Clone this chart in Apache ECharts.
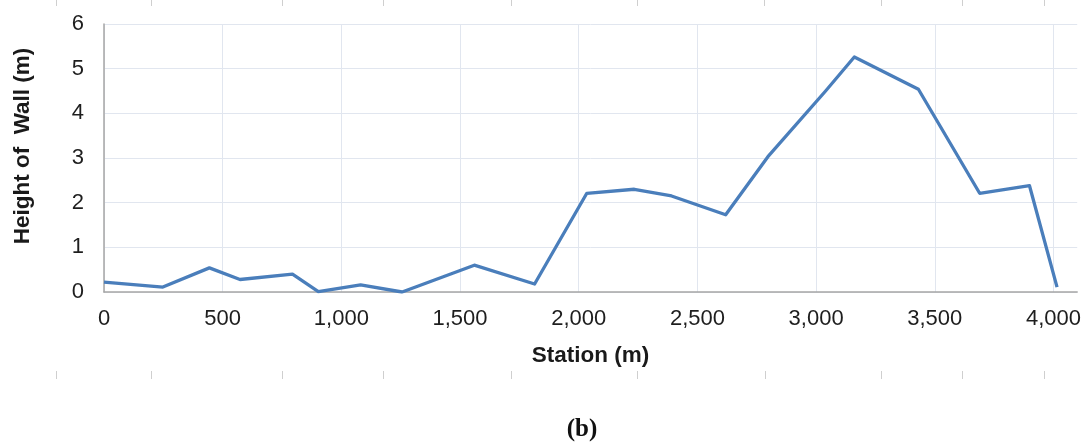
<!DOCTYPE html>
<html>
<head>
<meta charset="utf-8">
<script src="https://cdn.jsdelivr.net/npm/echarts@6/dist/echarts.min.js"></script>
<style>
  html, body { margin: 0; padding: 0; background: #ffffff; }
  #chart { width: 1084px; height: 443px; }
</style>
</head>
<body>
<div id="chart"></div>
<script>
// Wall height profile along the station chainage
const stations = [0, 248, 444, 573, 794, 903, 1081, 1256, 1560, 1814, 2034, 2234, 2391, 2619, 2797, 3040, 3161, 3431, 3689, 3899, 4015];
const wallHeights = [0.22, 0.11, 0.54, 0.28, 0.40, 0.01, 0.16, 0.00, 0.60, 0.18, 2.21, 2.30, 2.15, 1.73, 3.03, 4.50, 5.26, 4.54, 2.21, 2.38, 0.11];

const xTitle = 'Station (m)';
const yTitle = 'Height of  Wall (m)';
const caption = '(b)';

// faint page rule marks above and below the figure
const topMarks = [56, 151, 282, 383, 511, 637, 764, 881, 962, 1044];
const bottomMarks = [56, 151, 282, 383, 511, 637, 765, 881, 962, 1044];

const chart = echarts.init(document.getElementById('chart'), null, { renderer: 'canvas' });

const font = '"Liberation Sans", Arial, sans-serif';

const marks = [];
topMarks.forEach(x => marks.push({
  type: 'line', shape: { x1: x + 0.5, y1: 0, x2: x + 0.5, y2: 6 },
  style: { stroke: '#cfcfcf', lineWidth: 1 }, silent: true
}));
bottomMarks.forEach(x => marks.push({
  type: 'line', shape: { x1: x + 0.5, y1: 371, x2: x + 0.5, y2: 379 },
  style: { stroke: '#cfcfcf', lineWidth: 1 }, silent: true
}));

chart.setOption({
  backgroundColor: '#ffffff',
  animation: false,
  grid: { left: 104, right: 6, top: 24, bottom: 151, containLabel: false },
  xAxis: {
    type: 'value',
    min: 0,
    max: 4100,
    interval: 500,
    name: xTitle,
    nameLocation: 'middle',
    nameGap: 52,
    nameTextStyle: { fontFamily: font, fontSize: 22.5, fontWeight: 'bold', color: '#1a1a1a' },
    axisLine: { show: true, lineStyle: { color: '#a6a6a6', width: 1.5 } },
    axisTick: { show: false },
    axisLabel: {
      fontFamily: font, fontSize: 22, color: '#1e1e1e', margin: 16,
      showMaxLabel: false,
      formatter: v => v.toLocaleString('en-US')
    },
    splitLine: { show: true, showMaxLine: false, lineStyle: { color: '#e1e6ef', width: 1 } }
  },
  yAxis: {
    type: 'value',
    min: 0,
    max: 6,
    interval: 1,
    axisLine: { show: true, lineStyle: { color: '#a6a6a6', width: 1.5 } },
    axisTick: { show: false },
    axisLabel: { fontFamily: font, fontSize: 22, color: '#1e1e1e', margin: 20 },
    splitLine: { show: true, lineStyle: { color: '#e1e6ef', width: 1 } }
  },
  graphic: [
    {
      type: 'text',
      x: 23, y: 146, rotation: Math.PI / 2,
      style: {
        text: yTitle, fontFamily: font, fontSize: 22.5, fontWeight: 'bold',
        fill: '#1a1a1a', align: 'center', verticalAlign: 'middle'
      }
    },
    {
      type: 'text',
      x: 582, y: 430,
      style: {
        text: caption, fontFamily: '"Liberation Serif", "Times New Roman", serif',
        fontSize: 25, fontWeight: 'bold', fill: '#111111',
        align: 'center', verticalAlign: 'middle'
      }
    }
  ].concat(marks),
  series: [{
    type: 'line',
    data: stations.map((s, i) => [s, wallHeights[i]]),
    showSymbol: false,
    lineStyle: { color: '#4a7ebb', width: 3.3, join: 'round' },
    itemStyle: { color: '#4a7ebb' }
  }]
});
</script>
</body>
</html>
